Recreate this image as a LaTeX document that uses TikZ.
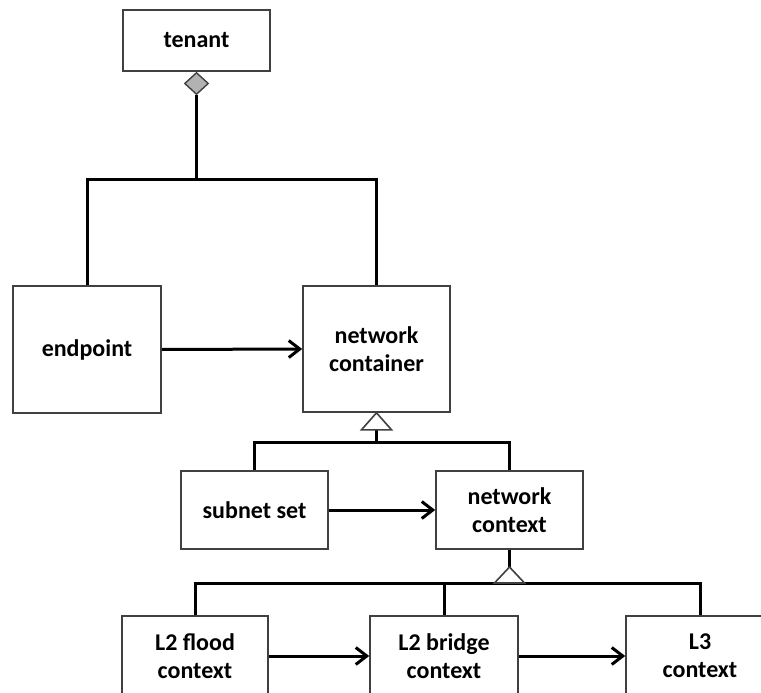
\documentclass[tikz,border=0pt]{standalone}
\usepackage{fontspec}
\setmainfont{Carlito}
\usetikzlibrary{arrows.meta,shapes.geometric,calc}

\tikzset{
  box/.style={draw=black!75, line width=1.6pt, fill=white, rectangle,
    inner sep=0pt, align=center,
    font=\fontsize{24}{28}\selectfont\bfseries},
  conn/.style={line width=3pt, draw=black},
  arr/.style={conn, -{Straight Barb[length=11pt,width=17pt,line width=3pt]}},
  agg/.style={diamond, draw=black!75, fill=black!30, line width=1.4pt,
    inner sep=0pt, minimum width=24pt, minimum height=22pt},
  gen/.style={draw=black!75, fill=white, line width=1.6pt, line join=miter}
}

\begin{document}
\begin{tikzpicture}[x=1pt, y=-1pt]
  \useasboundingbox (0,0) rectangle (761,693);

  % classes
  \node[box, minimum width=147pt, minimum height=61pt]  (tenant)   at (196.5,40.5) {tenant};
  \node[box, minimum width=148pt, minimum height=127pt] (endpoint) at (87,349.5)   {endpoint};
  \node[box, minimum width=147pt, minimum height=126pt] (nc)       at (376.5,349)  {network\\container};
  \node[box, minimum width=147pt, minimum height=78pt]  (subnet)   at (254.5,510)  {subnet set};
  \node[box, minimum width=147pt, minimum height=78pt]  (nctx)     at (509.5,510)  {network\\context};
  \node[box, minimum width=146pt, minimum height=80pt]  (flood)    at (195,656)    {L2 flood\\context};
  \node[box, minimum width=148pt, minimum height=80pt]  (bridge)   at (444,656)    {L2 bridge\\context};
  \node[box, minimum width=148pt, minimum height=80pt]  (lthree)   at (700,656)    {L3\\context};

  % aggregation: tenant owns endpoints and network containers
  \node[agg, anchor=north] (own) at (tenant.south) {};
  \coordinate (jtop) at (196.5,179);
  \draw[conn] (own.south) -- (jtop);
  \draw[conn] (endpoint.north) |- (jtop) -| (nc.north);

  % generalization: network container
  \coordinate (jmid) at (376.5,442);
  \coordinate (genA) at ($(nc.south)+(0,17)$);
  \draw[conn] (subnet.north) |- (jmid) -| (nctx.north);
  \draw[conn] (genA) -- (jmid);
  \draw[gen] (nc.south) -- ++(-15,17) -- ++(30,0) -- cycle;

  % generalization: network context
  \coordinate (jlow) at (509.5,583);
  \coordinate (genB) at (509.5,567);
  \draw[conn] (flood.north) |- (jlow) -| (lthree.north);
  \draw[conn] (bridge.north) -- (bridge.north |- jlow);
  \draw[conn] (nctx.south) -- (genB);
  \draw[gen] (genB) -- ++(-15,16) -- ++(30,0) -- cycle;

  % associations
  \draw[arr] (endpoint.east) -- (nc.west);
  \draw[arr] (subnet.east) -- (nctx.west);
  \draw[arr] (flood.east) -- (bridge.west);
  \draw[arr] (bridge.east) -- (lthree.west);
\end{tikzpicture}
\end{document}
